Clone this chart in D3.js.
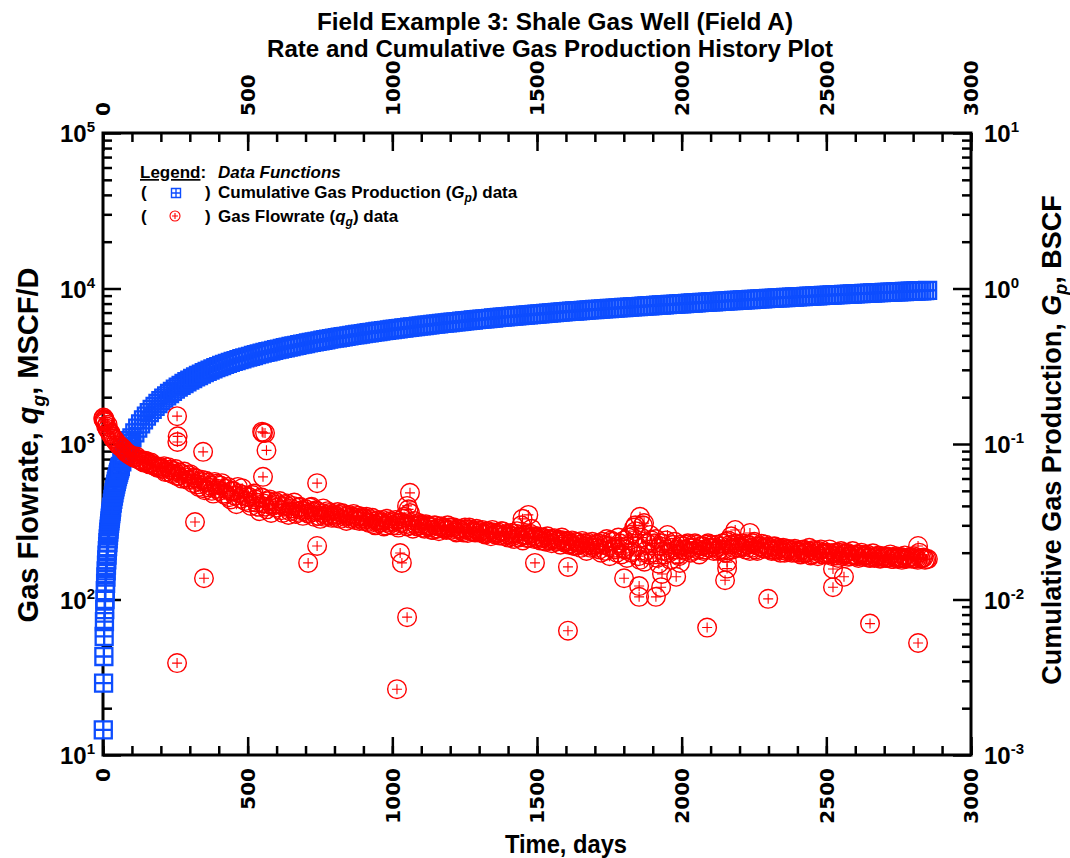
<!DOCTYPE html>
<html><head><meta charset="utf-8">
<script src="https://cdn.jsdelivr.net/npm/d3@7"></script>
<style>
body{margin:0;background:#fff}
svg{display:block}
text{font-family:'Liberation Sans',Arial,sans-serif;font-weight:bold;fill:#000}
</style>
</head><body>
<svg id="chart" width="1070" height="858"></svg>
<script>
// ---------------- DATA ----------------
const titleLines = ["Field Example 3: Shale Gas Well (Field A)", "Rate and Cumulative Gas Production History Plot"];
const xTickValues = [0, 500, 1000, 1500, 2000, 2500, 3000];
const leftDecades = [1, 2, 3, 4, 5];      // 10^n MSCF/D
const rightDecades = [-3, -2, -1, 0, 1];  // 10^n BSCF

// Cumulative gas production, BSCF (early days listed individually, then every 10 days)
const gpDaysEarly = [1,2,3,4,5,6,7,8,9,10,11,12,13,14,15,16,17,18,19,20,21,22,23,24,25,26,27,28,29,30,
  32,34,36,38,40,42,44,46,48,50,52,54,56,58,60,65,70,75,80,85,90,95,100];
const gpEarly = [0.00145,0.0029,0.0043,0.0058,0.0072,0.0086,0.0100,0.0114,0.0127,0.01395,
  0.0153,0.01663,0.01796,0.01928,0.0206,0.02191,0.02322,0.02452,0.02581,0.0271,
  0.02836,0.02961,0.03085,0.03208,0.03331,0.03453,0.03574,0.03694,0.03813,0.03932,
  0.04167,0.0440,0.0463,0.04858,0.05084,0.05304,0.05522,0.05738,0.05952,0.06164,
  0.06372,0.06579,0.06784,0.06987,0.07188,0.07684,0.08172,0.08654,0.09128,0.09594,0.1005,0.1050,0.1094];
const gpLateStartDay = 110, gpLateStepDays = 10;
const gpLate = [
  0.1180,0.1265,0.1349,0.1431,0.1512,0.1591,0.1669,0.1746,0.1822,0.1897,
  0.1970,0.2042,0.2113,0.2183,0.2252,0.2319,0.2385,0.2450,0.2514,0.2577,
  0.2638,0.2699,0.2758,0.2817,0.2874,0.2931,0.2986,0.3041,0.3094,0.3147,
  0.3198,0.3249,0.3298,0.3347,0.3394,0.3441,0.3487,0.3533,0.3578,0.3621,
  0.3665,0.3708,0.3751,0.3794,0.3836,0.3878,0.3919,0.3960,0.4001,0.4041,
  0.4081,0.4120,0.4159,0.4198,0.4237,0.4275,0.4313,0.4351,0.4389,0.4426,
  0.4464,0.4501,0.4538,0.4575,0.4611,0.4647,0.4683,0.4719,0.4754,0.4789,
  0.4824,0.4859,0.4893,0.4927,0.4961,0.4995,0.5029,0.5062,0.5096,0.5129,
  0.5162,0.5194,0.5227,0.5259,0.5291,0.5323,0.5354,0.5386,0.5417,0.5449,
  0.5480,0.5511,0.5541,0.5572,0.5602,0.5632,0.5663,0.5693,0.5723,0.5753,
  0.5783,0.5812,0.5841,0.5871,0.5900,0.5929,0.5958,0.5988,0.6017,0.6046,
  0.6075,0.6103,0.6131,0.6159,0.6188,0.6215,0.6243,0.6271,0.6299,0.6327,
  0.6354,0.6381,0.6408,0.6434,0.6461,0.6488,0.6515,0.6542,0.6569,0.6596,
  0.6622,0.6648,0.6673,0.6699,0.6724,0.6750,0.6775,0.6801,0.6826,0.6852,
  0.6877,0.6901,0.6925,0.6949,0.6973,0.6998,0.7022,0.7047,0.7071,0.7096,
  0.7120,0.7143,0.7167,0.7190,0.7213,0.7236,0.7259,0.7281,0.7304,0.7327,
  0.7349,0.7372,0.7394,0.7416,0.7438,0.7460,0.7482,0.7504,0.7527,0.7549,
  0.7571,0.7592,0.7614,0.7635,0.7657,0.7679,0.7700,0.7722,0.7744,0.7765,
  0.7787,0.7808,0.7830,0.7851,0.7873,0.7894,0.7916,0.7937,0.7959,0.7980,
  0.8002,0.8023,0.8045,0.8066,0.8088,0.8109,0.8131,0.8153,0.8174,0.8196,
  0.8218,0.8239,0.8261,0.8283,0.8304,0.8326,0.8348,0.8370,0.8391,0.8413,
  0.8435,0.8456,0.8478,0.8500,0.8521,0.8543,0.8564,0.8586,0.8607,0.8629,
  0.8650,0.8671,0.8692,0.8713,0.8734,0.8754,0.8775,0.8796,0.8817,0.8838,
  0.8859,0.8879,0.8899,0.8919,0.8940,0.8960,0.8980,0.9001,0.9021,0.9041,
  0.9061,0.9081,0.9101,0.9120,0.9140,0.9160,0.9180,0.9199,0.9219,0.9239,
  0.9258,0.9278,0.9297,0.9316,0.9336,0.9355,0.9374,0.9394,0.9413,0.9432,
  0.9451,0.9470,0.9488,0.9507,0.9526,0.9545,0.9563,0.9582,0.9601,0.9620,
  0.9638,0.9657,0.9675,0.9693,0.9712];

// Gas flow rate, MSCF/D, sampled every 10 days starting at day 1
const rateStartDay = 1, rateStepDays = 10;
const rateMain = [
  1450,1300,1210,1120,1060,1000,960,925,880,855,
  835,815,800,790,760,775,740,735,720,700,
  700,720,665,685,640,690,625,600,665,590,
  640,560,600,530,590,505,565,540,480,555,
  500,560,470,530,440,495,410,480,520,430,
  460,400,480,420,370,450,395,430,360,410,
  390,430,360,405,350,385,420,365,395,345,
  380,355,395,340,370,330,385,350,360,335,
  345,365,330,355,320,350,340,325,345,330,
  320,340,310,335,300,325,315,295,330,305,
  300,325,290,315,340,295,360,285,305,310,
  305,285,300,290,280,298,275,295,285,300,
  280,292,270,285,275,290,268,280,272,285,
  270,280,262,275,255,270,265,258,275,260,
  250,268,245,275,255,240,262,250,285,245,
  255,240,250,235,245,230,248,238,225,240,
  235,225,240,220,232,215,230,205,225,235,
  215,230,200,225,245,190,235,210,250,195,
  240,185,260,205,275,190,250,175,230,260,
  200,245,170,230,195,260,180,225,210,190,
  220,205,230,200,215,225,195,220,210,230,
  215,205,225,210,230,200,240,255,215,225,
  220,230,210,225,215,235,205,220,215,225,
  215,205,220,210,200,215,205,210,200,212,
  205,195,210,200,215,195,205,190,210,200,
  195,210,190,200,185,205,195,200,190,205,
  195,185,200,190,195,185,198,188,192,185,
  190,185,195,182,190,186,180,192,185,188,
  190,183,200,185,180,182];

// Gas flow rate, MSCF/D, second sampling every 10 days starting at day 6
const rate2StartDay = 6, rate2StepDays = 10;
const rateMain2 = [
  1400,1250,1160,1080,1030,980,945,900,870,845,
  820,830,790,770,780,750,760,725,710,715,
  690,660,710,650,670,620,655,640,610,630,
  590,610,550,575,520,580,525,500,570,515,
  540,480,515,455,500,465,530,445,470,455,
  420,470,440,395,455,415,380,440,400,425,
  410,375,395,415,370,400,355,390,375,370,
  360,390,365,375,345,360,340,370,345,355,
  335,350,360,340,345,330,355,335,320,340,
  330,315,325,305,320,310,325,300,315,320,
  315,300,310,330,305,380,300,320,295,300,
  290,305,295,280,300,285,295,290,280,290,
  290,275,285,280,270,282,290,275,270,278,
  275,265,272,268,280,262,270,275,255,265,
  260,255,265,250,300,258,248,265,255,250,
  245,250,238,255,240,245,235,242,250,232,
  238,230,222,235,225,238,220,232,215,222,
  225,210,235,205,220,240,215,200,230,215,
  210,250,200,290,220,180,300,205,195,240,
  230,185,220,205,240,200,215,235,195,225,
  210,225,215,205,230,210,220,205,225,215,
  225,215,205,220,210,235,225,210,230,215,
  215,220,225,205,230,210,220,228,212,218,
  210,218,205,215,208,200,212,205,208,200,
  200,208,198,205,192,208,198,205,195,198,
  200,195,198,192,200,190,198,188,195,192,
  190,195,188,192,186,190,185,190,183,188,
  185,188,182,186,183,188,184,182,186,183,
  185,180,184,186,182];

// Additional individual rate points (early cluster and scattered outliers)
const rateExtraDays = [2,4,6,8,16,26,36,
  256,258,257,256,318,346,349,550,553,560,565,553,709,740,740,
  1016,1051,1033,1027,1061,1051,1450,1470,1493,1607,1607,
  1801,1853,1853,1856,1840,1870,1911,1929,1932,1981,1994,
  2088,2150,2157,2157,2185,2236,2299,2523,2561,2523,2651,2817,2817];
const rateExtra = [1480,1420,1440,1380,1330,1180,1090,
  1510,1120,1030,39,315,890,137,1200,1180,1175,910,615,172,221,560,
  26.5,77,172,199,485,400,330,350,172,63,162,
  137,122,104,340,300,310,104,120,146,140,172,
  66,133,158,174,280,268,101,120,140,157,70,52.5,221];

// ---------------- LAYOUT ----------------
const svg = d3.select('#chart');
const P = {l: 103, r: 971, t: 133, b: 755};
const x = d3.scaleLinear([0, 3000], [P.l, P.r]);
const yQ = d3.scaleLog([10, 1e5], [P.b, P.t]);
const yG = d3.scaleLog([1e-3, 10], [P.b, P.t]);
const BLUE = '#0d4dff', RED = '#ff0000';

function fit(sel, len) { sel.attr('textLength', len).attr('lengthAdjust', 'spacingAndGlyphs'); }

// titles
fit(svg.append('text').attr('x', 555).attr('y', 30).attr('text-anchor', 'middle')
  .style('font-size', '24px').text(titleLines[0]), 476);
fit(svg.append('text').attr('x', 550).attr('y', 57).attr('text-anchor', 'middle')
  .style('font-size', '24px').text(titleLines[1]), 566);
fit(svg.append('text').attr('x', 566).attr('y', 853).attr('text-anchor', 'middle')
  .style('font-size', '26px').text('Time, days'), 122);

// axes ticks
const xMinor = d3.range(0, 3001, 100);
function styleAxis(g) { g.select('.domain').remove(); g.selectAll('.tick line').attr('stroke', '#000').attr('stroke-width', 2.5); g.selectAll('.tick text').remove(); }
svg.append('g').attr('transform', `translate(0,${P.b})`).call(d3.axisBottom(x).tickValues(xMinor).tickSize(-9)).call(styleAxis);
svg.append('g').attr('transform', `translate(0,${P.b})`).call(d3.axisBottom(x).tickValues(xTickValues).tickSize(-18)).call(styleAxis);
svg.append('g').attr('transform', `translate(0,${P.t})`).call(d3.axisTop(x).tickValues(xMinor).tickSize(-9)).call(styleAxis);
svg.append('g').attr('transform', `translate(0,${P.t})`).call(d3.axisTop(x).tickValues(xTickValues).tickSize(-18)).call(styleAxis);

const qTicks = yQ.ticks();
const gTicks = yG.ticks();
const isMajor = v => Math.abs(Math.log10(v) - Math.round(Math.log10(v))) < 1e-9;
svg.append('g').attr('transform', `translate(${P.l},0)`).call(d3.axisLeft(yQ).tickValues(qTicks.filter(v => !isMajor(v))).tickSize(-9)).call(styleAxis);
svg.append('g').attr('transform', `translate(${P.l},0)`).call(d3.axisLeft(yQ).tickValues(qTicks.filter(isMajor)).tickSize(-18)).call(styleAxis);
svg.append('g').attr('transform', `translate(${P.r},0)`).call(d3.axisRight(yG).tickValues(gTicks.filter(v => !isMajor(v))).tickSize(-9)).call(styleAxis);
svg.append('g').attr('transform', `translate(${P.r},0)`).call(d3.axisRight(yG).tickValues(gTicks.filter(isMajor)).tickSize(-18)).call(styleAxis);

// frame
svg.append('rect').attr('x', P.l).attr('y', P.t).attr('width', P.r - P.l).attr('height', P.b - P.t)
  .attr('fill', 'none').attr('stroke', '#000').attr('stroke-width', 3);

// x tick labels (rotated)
const XLF = "'DejaVu Sans',Verdana,sans-serif";
xTickValues.forEach(v => {
  svg.append('text').attr('transform', `translate(${x(v)},${P.b + 13}) rotate(-90)`).attr('dy', '0.36em')
    .attr('text-anchor', 'end').style('font-family', XLF).style('font-size', '20px').text(v);
  svg.append('text').attr('transform', `translate(${x(v)},${P.t - 17}) rotate(-90)`).attr('dy', '0.36em')
    .attr('text-anchor', 'start').style('font-family', XLF).style('font-size', '20px').text(v);
});

// y tick labels
function powLabel(xp, yp, exp, anchor) {
  const t = svg.append('text').attr('x', xp).attr('y', yp).attr('text-anchor', anchor)
    .style('font-size', '24px');
  t.append('tspan').text('10');
  t.append('tspan').attr('dy', -10).style('font-size', '15px').text(exp);
}
leftDecades.forEach(n => powLabel(95, yQ(Math.pow(10, n)) + 9, n, 'end'));
rightDecades.forEach(n => powLabel(984, yG(Math.pow(10, n)) + 9, n, 'start'));

// axis titles
const lt = svg.append('text').attr('transform', `translate(38,445) rotate(-90)`).attr('text-anchor', 'middle').style('font-size', '29px');
lt.append('tspan').text('Gas Flowrate, ');
lt.append('tspan').style('font-style', 'italic').text('q');
lt.append('tspan').style('font-style', 'italic').style('font-size', '19px').attr('dy', 7).text('g');
lt.append('tspan').attr('dy', -7).text(', MSCF/D');
const rt = svg.append('text').attr('transform', `translate(1061,440) rotate(-90)`).attr('text-anchor', 'middle').style('font-size', '27px');
rt.append('tspan').text('Cumulative Gas Production, ');
rt.append('tspan').style('font-style', 'italic').text('G');
rt.append('tspan').style('font-style', 'italic').style('font-size', '18px').attr('dy', 6).text('p');
rt.append('tspan').attr('dy', -6).text(', BSCF');

// ---------------- MARKERS ----------------
const gpDays = gpDaysEarly.concat(d3.range(gpLate.length).map(i => gpLateStartDay + i * gpLateStepDays));
const gpVals = gpEarly.concat(gpLate);
const gpData = gpDays.map((d, i) => ({d, v: gpVals[i]}));
const rateData = rateMain.map((v, i) => ({d: rateStartDay + i * rateStepDays, v}))
  .concat(rateMain2.map((v, i) => ({d: rate2StartDay + i * rate2StepDays, v})))
  .sort((a, b) => a.d - b.d)
  .concat(rateExtraDays.map((d, i) => ({d, v: rateExtra[i]})));

const S = 8.5;
const gGp = svg.append('g');
gGp.selectAll('rect.bg').data(gpData).join('rect').attr('class', 'bg')
  .attr('x', p => x(p.d) - S).attr('y', p => yG(p.v) - S).attr('width', 2 * S).attr('height', 2 * S)
  .attr('fill', '#fff');
gGp.selectAll('path.sq').data(gpData).join('path').attr('class', 'sq')
  .attr('transform', p => `translate(${x(p.d)},${yG(p.v)})`)
  .attr('d', `M${-S},${-S}H${S}V${S}H${-S}ZM${-S},0H${S}M0,${-S}V${S}`)
  .attr('fill', 'none').attr('stroke', BLUE).attr('stroke-width', 2.3);

const R = 9.3;
const gQ = svg.append('g');
gQ.selectAll('g.pt').data(rateData).join('g').attr('class', 'pt')
  .attr('transform', p => `translate(${x(p.d)},${yQ(p.v)})`)
  .each(function () {
    const g = d3.select(this);
    g.append('circle').attr('r', R).attr('fill', 'none').attr('stroke', RED).attr('stroke-width', 1.4);
    g.append('path').attr('d', 'M-5,0H5M0,-5V5').attr('stroke', RED).attr('stroke-width', 1.1);
  });

// ---------------- LEGEND ----------------
const lg = svg.append('g').style('font-size', '17px');
const l0 = lg.append('text').attr('x', 140).attr('y', 178);
l0.append('tspan').style('text-decoration', 'underline').text('Legend');
l0.append('tspan').text(':');
lg.append('text').attr('x', 218).attr('y', 178).style('font-style', 'italic').text('Data Functions');
lg.append('text').attr('x', 141).attr('y', 198).text('(');
lg.append('text').attr('x', 205).attr('y', 198).text(')');
lg.append('text').attr('x', 141).attr('y', 222).text('(');
lg.append('text').attr('x', 205).attr('y', 222).text(')');
lg.append('path').attr('transform', 'translate(176,193)').attr('d', 'M-4.5,-4.5H4.5V4.5H-4.5ZM-4.5,0H4.5M0,-4.5V4.5')
  .attr('fill', 'none').attr('stroke', BLUE).attr('stroke-width', 1.4);
lg.append('circle').attr('cx', 175).attr('cy', 216).attr('r', 5).attr('fill', 'none').attr('stroke', RED).attr('stroke-width', 1.1);
lg.append('path').attr('transform', 'translate(175,216)').attr('d', 'M-3,0H3M0,-3V3').attr('stroke', RED).attr('stroke-width', 1.1);
const r1 = lg.append('text').attr('x', 218).attr('y', 198);
r1.append('tspan').text('Cumulative Gas Production (');
r1.append('tspan').style('font-style', 'italic').text('G');
r1.append('tspan').style('font-style', 'italic').style('font-size', '12px').attr('dy', 4).text('p');
r1.append('tspan').attr('dy', -4).text(') data');
const r2 = lg.append('text').attr('x', 218).attr('y', 222);
r2.append('tspan').text('Gas Flowrate (');
r2.append('tspan').style('font-style', 'italic').text('q');
r2.append('tspan').style('font-style', 'italic').style('font-size', '12px').attr('dy', 4).text('g');
r2.append('tspan').attr('dy', -4).text(') data');
</script>
</body></html>
